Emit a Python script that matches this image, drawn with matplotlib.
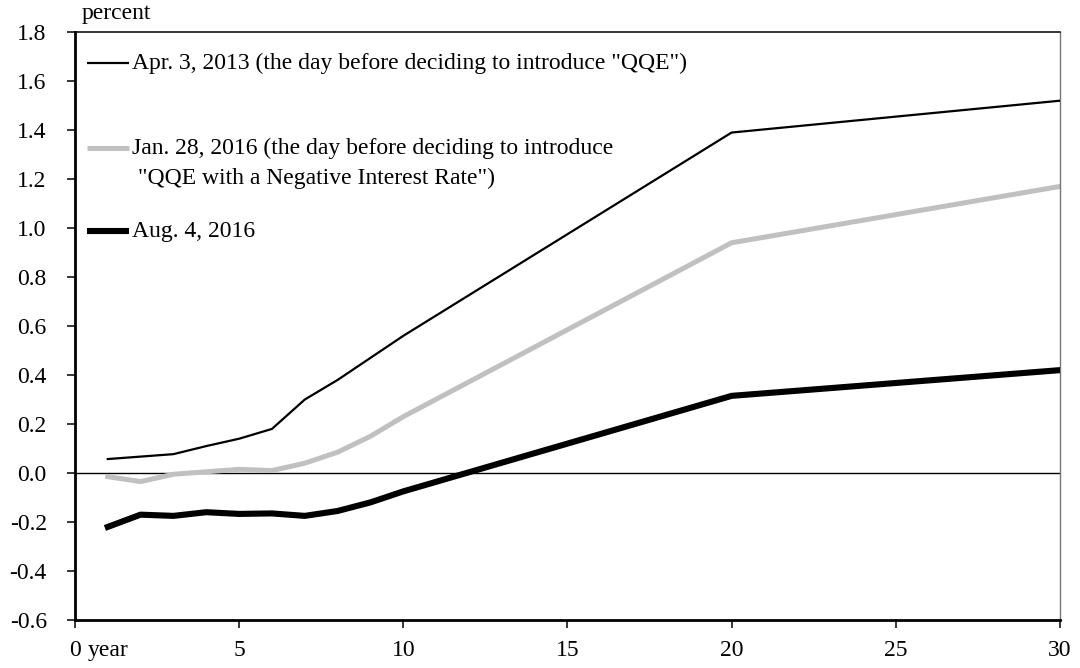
import numpy as np
import matplotlib
matplotlib.use('Agg')
import matplotlib.pyplot as plt

plt.rcParams['font.family'] = ['Liberation Serif', 'DejaVu Serif']

# maturities (years)
years = [1, 2, 3, 4, 5, 6, 7, 8, 9, 10, 20, 30]

# yields, percent
apr2013 = [0.057, 0.067, 0.077, 0.11, 0.14, 0.18, 0.30, 0.38, 0.47, 0.56, 1.39, 1.52]
jan2016 = [-0.015, -0.035, -0.005, 0.005, 0.015, 0.01, 0.04, 0.085, 0.15, 0.23, 0.94, 1.17]
aug2016 = [-0.22, -0.17, -0.175, -0.16, -0.167, -0.165, -0.175, -0.155, -0.12, -0.075, 0.315, 0.42]

labels = ['Apr. 3, 2013 (the day before deciding to introduce "QQE")',
          'Jan. 28, 2016 (the day before deciding to introduce\n "QQE with a Negative Interest Rate")',
          'Aug. 4, 2016']

fs = 17

fig = plt.figure(figsize=(10.8, 6.68), dpi=100)
ax = fig.add_axes([0.0694, 0.0719, 0.912, 0.880])

ax.axhline(0, color='black', lw=1.0, zorder=1)
ax.plot(years, apr2013, color='black', lw=1.6, zorder=3)
ax.plot(years, jan2016, color='#c0c0c0', lw=3.6, zorder=2)
ax.plot(years, aug2016, color='black', lw=4.4, zorder=3)

ax.set_xlim(0, 30)
ax.set_ylim(-0.6, 1.8)
ax.set_xticks(np.arange(0, 31, 5))
ax.set_xticklabels(['0', '5', '10', '15', '20', '25', '30'])
ax.set_yticks(np.arange(-0.6, 1.81, 0.2))
ax.set_yticklabels(['%.1f' % v for v in np.arange(-0.6, 1.81, 0.2)])
ax.tick_params(axis='both', labelsize=fs, direction='out', length=5.8, width=1.1)
ax.tick_params(axis='x', pad=8.5)
ax.tick_params(axis='y', pad=14.5)

ax.spines['left'].set_linewidth(2)
ax.spines['bottom'].set_linewidth(2)
ax.spines['top'].set_linewidth(1.1)
ax.spines['right'].set_linewidth(1.0)
ax.spines['right'].set_color('#777777')

ax.text(0.007, 1.022, 'percent', transform=ax.transAxes, fontsize=fs, ha='left', va='baseline')
# "year" next to the 0 tick label
ax.annotate('year', xy=(0, 0), xycoords='axes fraction', xytext=(9.2, -14.2),
            textcoords='offset points', fontsize=fs, ha='left', va='top')

# legend drawn by hand so the sample aligns with the first text line
leg_y = [0.947, 0.803, 0.661]
leg_lw = [1.6, 3.6, 4.4]
leg_col = ['black', '#c0c0c0', 'black']
for y, lw, c, lab in zip(leg_y, leg_lw, leg_col, labels):
    ax.plot([0.012, 0.055], [y, y], color=c, lw=lw, transform=ax.transAxes, solid_capstyle='butt')
    parts = lab.split('\n')
    ax.text(0.058, y, parts[0], transform=ax.transAxes, fontsize=fs, va='center', ha='left')
    if len(parts) > 1:
        ax.text(0.058, y - 0.051, parts[1], transform=ax.transAxes, fontsize=fs, va='center', ha='left')

fig.savefig('out.png', dpi=100)
